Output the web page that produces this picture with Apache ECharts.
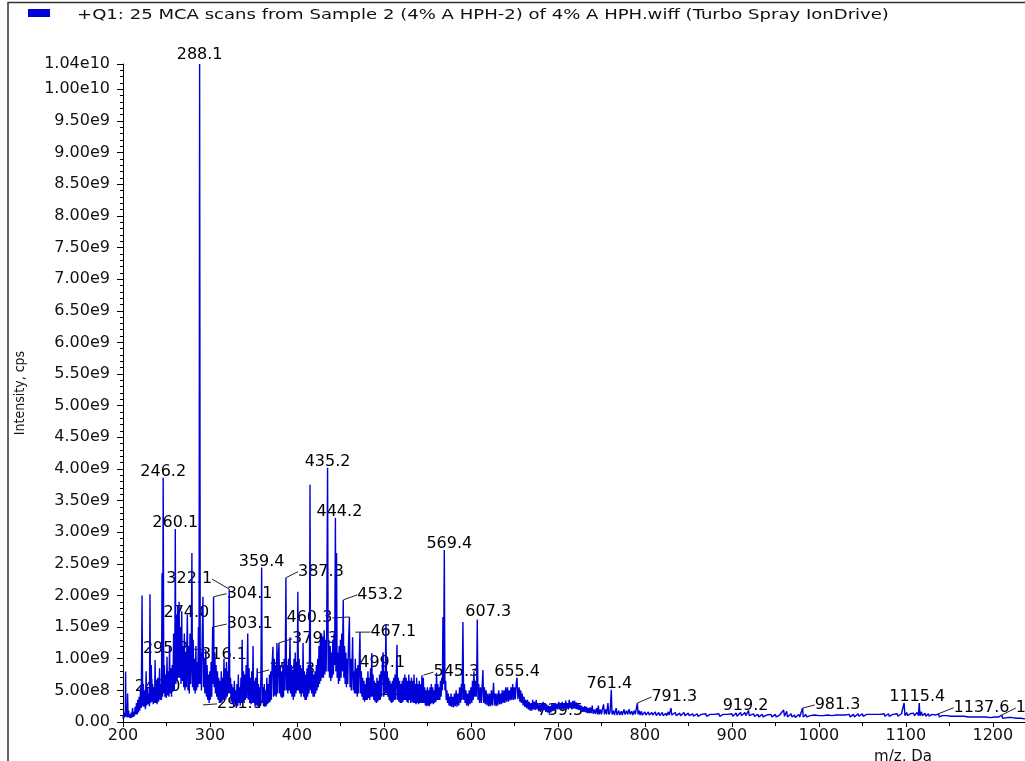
<!DOCTYPE html>
<html>
<head>
<meta charset="utf-8">
<script src="https://cdn.jsdelivr.net/npm/echarts@6/dist/echarts.min.js"></script>
<style>
html,body{margin:0;padding:0;background:#fff;}
#chart{width:1025px;height:761px;}
</style>
</head>
<body>
<div id="chart"></div>
<script>
// ---- DATA ----
const seriesName = '+Q1: 25 MCA scans from Sample 2 (4% A HPH-2) of 4% A HPH.wiff (Turbo Spray IonDrive)';
const xAxisName = 'm/z, Da';
const yAxisName = 'Intensity, cps';

// profile spectrum: [m/z, intensity in units of 1e8 cps]
const spectrumE8 = [
[200,0.5],[200.5,1.0],[201,0.6],[202,1.5],[202.6,0.8],[203,8.0],[203.4,0.9],[204,2.0],[204.7,0.7],[205.3,4.5],[205.8,0.8],[206.5,1.8],[207,0.7],[208,1.2],[208.7,0.6],[209.5,1.5],[210,0.7],[211,2.2],[211.6,0.8],[212.5,1.6],[213,0.9],[214,2.4],[214.6,1.2],[215.5,3.0],
[216.3,1.2],[217,3.5],[217.8,1.5],[218.6,4.0],[219.3,1.8],[220.2,5.5],[221,2.2],[221.9,20.0],[222.6,2.5],[223.4,6.0],[224.1,2.4],[225,5.0],[225.8,2.0],[226.6,8.0],[227.3,2.6],[228.2,5.5],[229,2.8],[229.8,4.5],[230.4,2.5],[231.0,20.2],[231.7,3.0],[232.5,9.0],[233.3,3.2],[234,6.0],[234.8,2.8],[235.6,5.5],[236.3,3.0],[236.9,9.8],[237.6,3.0],[238.4,6.5],[239.2,2.8],[240,7.0],[240.8,3.2],[241.5,5.0],[242.0,8.5],[242.7,3.5],[243.5,6.0],[244.2,3.5],[244.9,23.5],[245.5,4.0],[246.2,38.6],[246.9,4.5],[247.6,9.0],[248.3,4.0],[249,7.5],[249.8,3.8],[250.6,10.3],[251.3,4.2],[252,8.0],[252.8,4.0],[253.5,12.0],[254.2,4.5],[255,8.5],[255.8,4.0],[256.6,9.0],[257.4,4.8],[258.2,14.0],[259,5.0],[259.6,10.0],[260.1,30.5],[260.8,6.0],[261.5,17.0],[262.2,6.5],[263,18.5],[263.7,7.0],[264.5,19.0],[265.2,7.0],[266,15.0],[266.7,6.0],[267.5,17.5],[268.2,6.5],[269,12.0],[269.8,5.5],[270.5,14.0],[271.2,5.0],[272,11.0],[272.8,5.5],[273.5,13.0],[274.0,17.0],[274.7,5.0],[275.5,12.0],[276.2,4.5],[277,14.0],[277.8,6.0],[278.5,10.0],[279.2,26.7],[279.9,5.5],[280.7,13.0],[281.4,5.0],[282.2,10.0],[283,4.5],[283.8,12.0],[284.5,5.0],[285.3,9.5],[286,5.5],[286.7,15.0],[287.4,6.0],[288.1,104.0],[288.8,6.0],[289.5,11.0],[290.2,5.0],[291,13.0],[291.9,19.8],[292.6,5.5],[293.4,10.0],[294.1,4.5],[295.2,11.4],[295.9,4.0],[296.7,9.0],[297.4,3.5],[298.2,7.5],[299,3.0],[299.8,8.0],[300.5,3.5],[301.3,9.5],[302,4.0],[302.6,10.0],[303.1,15.0],[303.6,6.0],[304.1,19.8],[304.8,5.5],[305.6,11.0],[306.3,4.5],[307,9.0],[307.8,4.0],[308.6,8.0],[309.3,3.5],[310,7.0],[310.8,3.0],[311.5,6.5],[312.3,3.0],[313,8.0],[313.8,3.2],[314.6,7.0],[315.3,3.5],[316.1,10.0],[316.8,3.8],[317.6,8.5],[318.3,3.6],[319,9.5],[319.8,4.0],[320.6,8.0],[321.3,4.5],[322.1,21.0],[322.8,4.5],[323.6,7.0],[324.3,3.2],[325,6.0],[325.8,2.8],[326.6,5.5],[327.3,2.5],[328,6.5],[328.8,3.0],[329.6,5.0],[330.3,2.2],[331,6.0],[331.8,2.5],[332.6,7.5],[333.3,3.0],[334,5.5],[334.8,2.6],[335.6,7.0],[336.3,3.0],[337,13.0],[337.7,3.2],[338.5,8.0],[339.2,3.0],[340,7.5],[340.8,3.5],[341.6,9.0],[342.3,3.8],[343.4,14.0],[344.1,3.5],[345,8.5],[345.7,3.0],[346.5,7.0],[347.2,2.8],[348,8.0],[348.7,3.0],[349.5,12.0],[350.2,3.0],[351,6.5],[351.8,2.5],[352.5,7.0],[353.2,2.6],[354.3,8.5],[355,2.5],[355.8,6.0],[356.6,2.2],[357.3,5.5],[358,3.0],[358.6,8.0],[359.4,24.4],[360.1,3.0],[360.9,5.5],[361.6,2.5],[362.4,6.0],[363.1,2.4],[363.9,5.0],[364.6,2.5],[365.4,7.0],[366.1,2.8],[366.9,6.0],[367.6,3.0],[368.4,7.5],[369.1,3.2],[369.9,8.0],[370.6,3.5],[371.4,9.0],[372.4,11.9],[373.1,4.0],[374,10.0],[374.7,4.2],[375.5,9.0],[376.2,4.0],[377,12.5],[377.7,4.5],[378.5,10.0],[379.3,12.5],[380,4.5],[380.8,9.0],[381.5,4.0],[382.3,8.0],[383,3.8],[383.8,9.0],[384.5,4.0],[385.3,10.0],[386,5.0],[386.6,10.0],[387.3,22.8],[388,5.0],[388.8,9.0],[389.5,4.5],[390.3,10.0],[391,5.0],[392,13.4],[392.7,4.5],[393.5,9.0],[394.2,4.0],[395,8.0],[395.8,3.5],[396.6,10.0],[397.3,4.0],[398,11.0],[398.8,4.5],[399.6,9.0],[400.3,5.0],[401,20.6],[401.7,5.0],[402.5,10.0],[403.2,4.5],[404,9.0],[404.8,4.0],[405.6,8.5],[406.3,4.5],[407,12.5],[407.7,4.0],[408.5,8.0],[409.2,3.5],[410,7.5],[410.8,3.5],[411.6,8.5],[412.3,4.0],[413,9.0],[413.8,4.5],[414.4,10.0],[415,37.5],[415.6,5.0],[416.3,9.0],[417,4.5],[417.8,8.0],[418.5,4.0],[419.3,7.5],[420,4.0],[420.8,8.0],[421.5,4.5],[422.3,9.0],[423,5.0],[423.8,10.0],[424.5,5.5],[425.3,12.0],[426,6.0],[426.8,13.0],[427.5,6.5],[428.3,14.0],[429,7.0],[429.8,13.5],[430.5,7.0],[431.3,14.5],[432,7.5],[432.8,13.0],[433.5,8.0],[434.2,14.5],[435.2,40.2],[435.9,8.0],[436.7,13.0],[437.4,7.0],[438.2,12.0],[438.9,6.5],[439.7,11.0],[440.4,7.0],[441.2,13.0],[441.9,7.5],[442.6,14.0],[443.3,9.0],[444.2,32.3],[444.8,8.0],[445.5,26.7],[446.2,7.0],[447,11.0],[447.7,6.0],[448.5,12.0],[449.2,6.5],[450,13.0],[450.7,7.0],[451.5,14.0],[452.2,8.0],[453.2,19.3],[453.9,7.0],[454.7,12.0],[455.4,6.0],[456.2,11.0],[456.9,5.5],[457.7,10.0],[458.4,6.0],[459.2,12.0],[460.3,16.6],[461,5.5],[461.8,10.0],[462.5,5.0],[463.3,9.0],[464,13.4],[464.7,5.0],[465.5,8.0],[466.2,4.5],[467.1,10.0],[467.8,4.5],[468.6,8.5],[469.3,4.0],[470.1,9.0],[470.8,4.5],[471.6,9.5],[472.4,14.2],[473.1,4.5],[474,8.0],[474.7,4.0],[475.5,7.0],[476.2,3.5],[477,6.5],[477.8,3.2],[478.6,6.0],[479.3,3.5],[480,7.0],[480.8,3.5],[481.6,8.0],[482.3,3.8],[483,7.0],[483.8,3.5],[484.6,8.5],[485.3,4.0],[486,10.9],[486.7,4.0],[487.5,7.5],[488.2,3.5],[489,6.5],[489.8,3.2],[490.6,6.0],[491.3,3.0],[492,7.0],[492.8,3.2],[493.6,6.5],[494.3,3.5],[495,7.5],[495.8,3.5],[496.6,8.0],[497.3,4.0],[498.2,9.0],[499.1,11.0],[499.8,4.0],[500.6,8.0],[501.3,4.5],[502.3,15.5],[503,4.5],[503.8,8.0],[504.5,4.0],[505.3,7.0],[506,3.5],[506.8,6.5],[507.5,3.2],[508.3,6.0],[509,3.0],[509.8,6.5],[510.5,3.2],[511.3,7.0],[512,3.5],[512.8,7.5],[513.5,3.5],[514.3,8.0],[515,12.2],[515.7,3.5],[516.5,7.0],[517.2,3.2],[518,6.5],[518.8,3.0],[519.6,6.0],[520.3,3.0],[521,6.5],[521.8,3.2],[522.6,7.0],[523.3,3.5],[524,7.5],[524.8,3.5],[525.6,7.0],[526.3,3.2],[527,6.5],[527.8,3.0],[528.6,7.5],[529.3,3.5],[530,6.5],[530.8,3.0],[531.6,7.0],[532.3,3.2],[533,6.5],[533.8,3.0],[534.6,7.5],[535.3,3.0],[536,6.0],[536.8,2.8],[537.6,7.0],[538.3,3.0],[539,6.0],[539.8,2.8],[540.6,6.5],[541.3,3.0],[542,6.0],[542.8,3.0],[543.7,7.4],[544.4,3.0],[545.3,7.0],[546,3.0],[546.8,5.5],[547.6,2.6],[548.4,5.0],[549.1,2.5],[550,5.5],[550.7,2.6],[551.5,5.0],[552.2,2.5],[553,5.5],[553.7,2.8],[554.5,6.0],[555.2,3.0],[556,5.5],[556.7,2.8],[557.5,5.0],[558.2,3.0],[559,6.0],[559.7,3.2],[560.5,7.8],[561.2,3.5],[562,6.0],[562.7,3.5],[563.5,5.5],[564.2,3.5],[565,6.5],[565.7,4.0],[566.5,7.0],[567.2,5.0],[567.8,16.6],[568.5,6.0],[569.4,27.2],[570.1,5.0],[570.9,6.5],[571.6,3.5],[572.4,5.0],[573.1,3.0],[574,4.5],[574.8,2.6],[575.6,4.0],[576.4,2.5],[577.2,4.5],[578,2.4],[579,4.0],[580,2.3],[581,4.5],[582,2.5],[583,5.0],[584,2.4],[585,4.5],[586,2.6],[587,5.5],[588,3.0],[589,6.0],[589.8,3.5],[590.8,15.8],[591.6,3.5],[592.5,6.0],[593.3,3.0],[594.2,5.0],[595,2.6],[596,4.5],[597,2.5],[598,5.0],[599,2.8],[600,5.5],[601,3.0],[601.8,6.5],[602.6,3.5],[603.5,8.0],[604.3,4.0],[605.2,6.5],[606,4.0],[606.6,6.0],[607.3,16.2],[608.1,3.5],[609,6.0],[610,3.0],[611,5.5],[612,3.0],[613.8,8.2],[614.6,3.0],[615.5,5.5],[616.5,2.8],[617.5,5.0],[618.5,2.6],[619.5,4.5],[620.5,2.5],[621.5,4.5],[622.5,2.5],[623.5,5.0],[624.5,2.6],[626,6.2],[627,2.6],[628,4.5],[629,2.5],[630,4.5],[631,2.6],[632,5.0],[633,2.8],[634,4.5],[635,2.8],[636,5.0],[637,3.0],[638,5.0],[639,3.0],[640,5.5],[641,3.2],[642,5.5],[643,3.2],[644,5.0],[645,3.4],[646,5.5],[647,3.5],[648,6.0],[649,3.5],[650,5.5],[651,3.6],[652,6.0],[653,7.0],[654,3.6],[655.4,5.5],[656.3,3.2],[657.2,5.0],[658,3.0],[659,4.5],[660,2.6],[661,4.0],[662,2.4],[663,3.5],[664,2.2],[665,3.5],[666,2.0],[667,3.2],[668,1.8],[669,3.0],[670,1.8],[671,3.5],[672,2.0],[673,3.2],[674,1.9],[675,3.5],[676,2.0],[677,3.0],[678,1.7],[679,2.8],[680,1.6],[681,3.0],[682,1.8],[683,3.2],[684,1.9],[685,3.0],[686,1.6],[687,2.8],[688,1.5],[689,2.6],[690,1.4],[691,2.5],[692,1.5],[693,2.8],[694,1.7],[695,3.0],[696,1.8],[697,3.0],[698,2.0],[699,2.9],[700,2.0],[701,3.2],[702,2.1],[703,3.0],[704,2.0],[705,3.2],[706,1.9],[707,3.0],[708,2.1],[709,3.4],[710,2.1],[711,3.0],[712,2.0],[713,3.5],[714,2.2],[715,3.1],[716,2.0],[717,3.3],[718,2.1],[719,3.4],[720,2.2],[721,3.1],[722,2.0],[723,2.9],[724,1.9],[725,2.7],[726,1.8],[727,2.6],[728,1.6],[729,2.4],
[730,1.6],[731,2.5],[732,1.5],[733,2.4],[734,1.4],[735,2.2],[736,1.4],[737,2.3],[738,1.4],[739.5,2.6],[740.5,1.3],[742,2.0],[743,1.3],[744.5,2.2],[745.5,1.2],[746.5,2.6],[747.5,1.2],[749,2.0],[750,1.2],[751.5,2.2],[752.5,2.8],[753.5,1.2],[755,2.0],[756,1.2],[757.5,3.0],[758.5,1.2],[760,1.6],[761.4,5.1],[762.2,1.2],[764,1.8],[765,1.1],[767,2.2],[768,1.1],[770,1.8],[771,1.1],[773,1.7],[774,1.1],[776,2.0],[777,1.2],[779,1.8],[780,1.2],[782,2.0],[783,1.2],[785,1.7],[786,1.1],[788,1.8],[789,1.2],[791.3,3.0],[792.2,1.2],[793.5,1.8],[794.5,1.1],[796,1.7],[797,1.1],[800,1.6],[801,1.1],[804,1.6],[805,1.1],[808,1.5],[809,1.1],[812,1.6],[813,1.0],[816,1.5],[817,1.0],[820,1.5],[821,1.0],[824,1.4],[825,1.0],[827,1.6],[828,1.1],[830,2.2],[831,1.1],[835,1.5],[836,1.0],[840,1.4],[841,1.0],[845,1.5],[846,1.0],[850,1.4],[851,1.0],[855,1.3],[856,0.9],[860,1.3],[861,0.9],[865,1.2],[866,0.9],[870,1.3],[871,0.9],[875,1.2],[876,0.9],[880,1.2],[881,0.9],[885,1.3],[886,0.9],[890,1.2],[891,0.9],[895,1.2],[896,0.9],[900,1.3],[901,0.9],[905,1.4],[906,0.9],[910,1.5],[911,1.0],[915,1.5],[916,1.0],[919.2,1.8],[920,1.0],[925,1.3],[926,0.9],[930,1.2],[931,0.8],[935,1.2],[936,0.8],[940,1.1],[941,0.8],[945,1.2],[946,0.8],[950,1.2],[951,0.8],[955,1.1],[956,0.8],[959.5,1.9],[960.5,0.9],[963,1.7],[964,0.8],[968,1.3],[969,0.8],[972,1.1],[973,0.7],[977,1.2],[978,0.8],[981.3,2.2],[982,0.8],[985,1.2],[986,0.8],[990,1.0],[991,0.8],[995,1.1],[996,0.8],[1000,1.0],[1001,0.8],[1005,1.0],[1006,0.8],[1010,1.1],[1011,0.8],[1015,1.0],[1016,0.8],[1020,1.1],[1021,0.8],[1025,1.1],[1026,0.8],[1030,1.1],[1031,0.8],[1035,1.2],[1036,0.8],[1040,1.2],[1041,0.8],[1045,1.3],[1046,0.9],[1050,1.3],[1051,0.9],[1055,1.2],[1056,0.9],[1060,1.2],[1061,0.9],[1065,1.2],[1066,0.9],[1070,1.2],[1071,0.9],[1075,1.3],[1076,0.9],[1080,1.3],[1081,0.9],[1085,1.2],[1086,0.9],[1090,1.3],[1091,0.9],[1095,1.3],[1096,1.0],[1098,3.0],[1099,1.0],[1101,1.5],[1102,1.0],[1105,1.3],[1106,1.0],[1109,1.4],[1110,1.0],[1113,1.5],[1114.5,1.0],[1115.4,3.0],[1116.3,1.0],[1118,1.6],[1119,1.0],[1122,1.4],[1123,0.9],[1126,1.3],[1127,0.9],[1130,1.2],[1131,0.9],[1134,1.1],[1135,0.8],[1137.6,1.3],[1138.5,0.8],[1142,1.0],[1143,0.8],[1147,1.0],[1148,0.7],[1152,0.9],[1153,0.7],[1157,0.9],[1158,0.7],[1162,0.9],[1163,0.7],[1167,0.9],[1168,0.7],[1172,0.8],[1173,0.6],[1177,0.8],[1178,0.6],[1182,0.8],[1183,0.6],[1187,0.8],[1188,0.6],[1192,0.8],[1193,0.6],[1197,0.7],[1198,0.6],[1202,0.8],[1203,0.6],[1207,0.8],[1208,0.6],[1210.3,1.1],[1211.2,0.6],[1217,0.7],[1218,0.5],[1222,0.7],[1223,0.5],[1227,0.6],[1228,0.5],[1232,0.6],[1233,0.5],[1237,0.5]
];

// peak annotations: [text, m/z, intensity (cps) at the annotated point]
const peakLabels = [
['288.1',288.1,1.04e10],['246.2',246.2,3.86e9],['260.1',260.1,3.05e9],['322.1',322.1,2.1e9],
['304.1',304.1,1.98e9],['274.0',274.0,1.7e9],['303.1',303.1,1.5e9],['295.2',295.2,1.14e9],
['316.1',316.1,1.0e9],['242.0',242.0,4.0e8],['291.9',291.9,2.7e8],['354.3',354.3,7.75e8],
['359.4',359.4,2.44e9],['387.3',387.3,2.28e9],['379.3',379.3,1.25e9],['460.3',460.3,1.66e9],
['435.2',435.2,4.02e9],['444.2',444.2,3.23e9],['453.2',453.2,1.93e9],['467.1',467.1,1.42e9],
['499.1',499.1,1.1e9],['512.1',512.1,4.0e8],['545.3',545.3,7.4e8],['569.4',569.4,2.72e9],
['607.3',607.3,1.61e9],['655.4',655.4,7.0e8],['739.5',739.5,1.5e8],['761.4',761.4,5.1e8],
['791.3',791.3,3.0e8],['919.2',919.2,1.8e8],['981.3',981.3,2.2e8],['1115.4',1115.4,3.0e8],
['1137.6',1137.6,1.3e8],['1210.3',1210.3,1.1e8]
];

// axis settings
const xMin = 200, xMax = 1237, xStep = 100;
const yMin = 0, yMax = 1.04e10, yStep = 5e8;

// ---- LAYOUT (label nudges in px: [dx, dy, leader]) ----
const labelShiftY = 3;
const labelNudge = [
[0,-3,0],[0,0,0],[0,0,0],[-40,-4,1],
[36,3,1],[-1,4,0],[37,3,1],[-40,5,1],
[0,2,0],[-2,-4,0],[37,5,1],[35,3,1],
[0,0,0],[35,0,1],[36,2,1],[-40,7,1],
[0,0,0],[4,0,0],[37,1,1],[38,6,1],
[-1,16,0],[-3,0,0],[33,3,1],[5,0,0],
[11,-2,0],[-2,0,0],[-32,4,1],[-2,0,0],
[37,0,1],[-3,1,0],[35,3,1],[-2,0,0],
[43,0,1],[42,-1,1]
];

const spectrum = spectrumE8.map(p => [p[0], p[1] * 1e8]);
const labelData = peakLabels.map((p, i) => ({
  value: [p[1], p[2]],
  name: p[0],
  labelLine: { show: !!labelNudge[i][2] }
}));

function fmtY(v) {
  if (v === 0) return '0.00';
  return v.toExponential(2).replace('e+', 'e');
}

const chart = echarts.init(document.getElementById('chart'), null, { renderer: 'canvas' });
const font = 'DejaVu Sans, Liberation Sans, Arial, sans-serif';
chart.setOption({
  animation: false,
  backgroundColor: '#ffffff',
  legend: {
    data: [seriesName],
    left: 23, top: 4,
    itemWidth: 22, itemHeight: 8,
    icon: 'rect',
    selectedMode: false,
    formatter: () => '',
    textStyle: { fontSize: 12 }
  },
  grid: { left: 123, right: 0, top: 64, bottom: 39, containLabel: false, outerBoundsMode: 'none' },
  xAxis: {
    type: 'value', min: xMin, max: xMax, interval: xStep,
    name: xAxisName, nameLocation: 'end', nameGap: -122,
    nameTextStyle: { fontFamily: font, fontSize: 15, color: '#111', align: 'center', verticalAlign: 'top', padding: [28, 0, 0, 0] },
    axisLine: { lineStyle: { color: '#000', width: 1 } },
    axisTick: { length: 5, lineStyle: { color: '#000' } },
    minorTick: { show: true, splitNumber: 2, length: 4, lineStyle: { color: '#000' } },
    axisLabel: { fontFamily: font, fontSize: 16, color: '#111', margin: 6, showMaxLabel: false, formatter: v => String(v) },
    splitLine: { show: false }
  },
  yAxis: {
    type: 'value', min: yMin, max: yMax, interval: yStep,
    name: yAxisName, nameLocation: 'middle', nameRotate: 90, nameGap: 96,
    nameTextStyle: { fontFamily: 'Liberation Sans Narrow, DejaVu Sans Condensed, Liberation Sans, sans-serif', fontSize: 14, color: '#111' },
    axisLine: { show: true, lineStyle: { color: '#000', width: 1 } },
    axisTick: { show: true, length: 6, lineStyle: { color: '#000' } },
    minorTick: { show: true, splitNumber: 5, length: 3, lineStyle: { color: '#000' } },
    axisLabel: { fontFamily: font, fontSize: 16, color: '#111', margin: 13, formatter: fmtY },
    splitLine: { show: false }
  },
  graphic: [
    { type: 'polyline', shape: { points: [[8, 761], [8, 2.5], [1025, 2.5]] }, style: { stroke: '#333', lineWidth: 1.5, fill: null }, silent: true },
    { type: 'text', x: 77, y: 15, scaleX: 1.29, silent: true,
      style: { text: seriesName, font: '14px DejaVu Sans, Liberation Sans, sans-serif', fill: '#111', textVerticalAlign: 'middle', textAlign: 'left' } }
  ],
  series: [
    {
      name: 'labels', type: 'scatter', z: 1,
      data: labelData,
      symbol: 'circle', symbolSize: 0.1,
      itemStyle: { color: '#fff', opacity: 1 },
      silent: true,
      label: {
        show: true, position: 'top', distance: 1,
        formatter: p => p.name,
        fontFamily: font, fontSize: 16, color: '#000', opacity: 1
      },
      labelLayout: p => ({ dx: labelNudge[p.dataIndex][0], dy: labelNudge[p.dataIndex][1] + labelShiftY }),
      labelLine: { show: true, length2: 0, smooth: false, lineStyle: { color: '#222', width: 1, opacity: 1 } },
      emphasis: { disabled: true }
    },
    {
      name: seriesName, type: 'line', z: 2,
      data: spectrum,
      showSymbol: false, symbol: 'none',
      sampling: 'none',
      lineStyle: { color: '#0000d8', width: 1.4 },
      itemStyle: { color: '#0000d8' },
      emphasis: { disabled: true },
      silent: true
    }
  ]
});
</script>
</body>
</html>
